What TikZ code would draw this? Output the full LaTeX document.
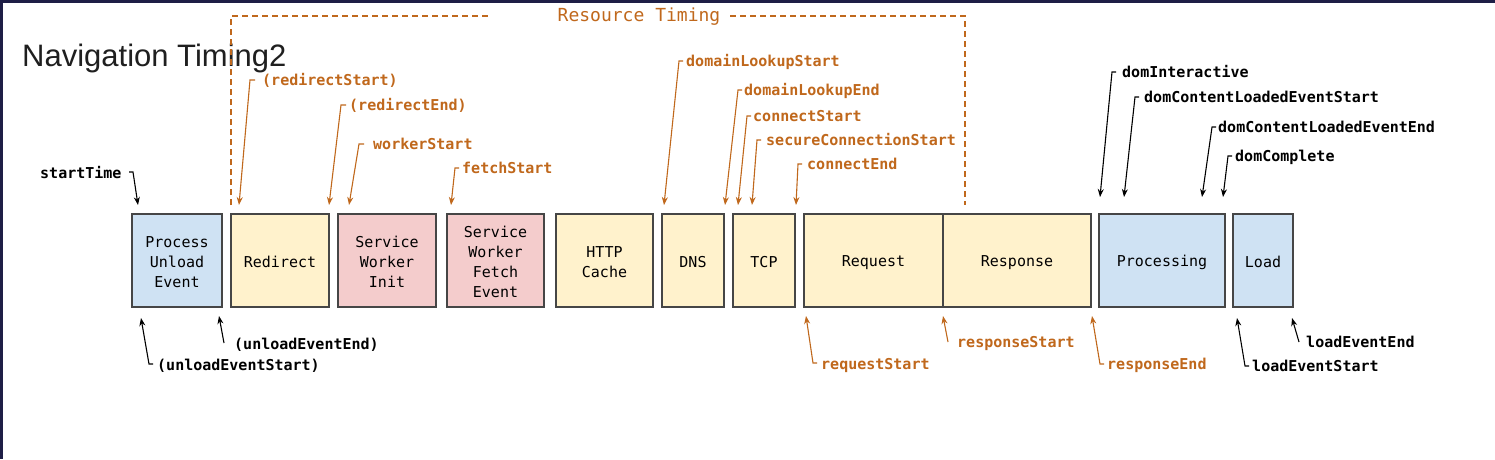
\documentclass[tikz,border=0pt]{standalone}
\usepackage{fontspec}
\usetikzlibrary{arrows.meta}
\newfontfamily\monofont{DejaVu Sans Mono}
\newfontfamily\titlefont{Liberation Sans}
\newcommand{\bst}{\rule[-3pt]{0pt}{19pt}}
\definecolor{orng}{RGB}{192,104,28}
\definecolor{bluef}{RGB}{207,226,243}
\definecolor{yelf}{RGB}{255,242,204}
\definecolor{pinkf}{RGB}{244,204,204}
\definecolor{boxc}{RGB}{70,70,70}
\definecolor{edgec}{RGB}{30,30,70}
\tikzset{
  box/.style={draw=boxc, line width=1.5pt, rectangle, minimum height=93pt, inner sep=0pt, align=center, font=\monofont\fontsize{15}{20}\selectfont, text=black},
  bluebox/.style={box, fill=bluef},
  yelbox/.style={box, fill=yelf},
  pinkbox/.style={box, fill=pinkf},
  olab/.style={anchor=base west, inner sep=0pt, font=\monofont\bfseries\fontsize{15}{18}\selectfont, text=orng},
  blab/.style={olab, text=black},
  oarr/.style={draw=orng, line width=1.1pt, line join=miter, -{Stealth[length=8pt,width=6pt]}},
  barr/.style={oarr, draw=black},
  dashbox/.style={draw=orng, line width=1.2pt, dash pattern=on 6pt off 4pt},
}
\begin{document}
\begin{tikzpicture}[x=1pt,y=-1pt]
\useasboundingbox (0,0) rectangle (1495,459);
\fill[white] (0,0) rectangle (1495,459);
\fill[edgec] (0,0) rectangle (3,459);
\fill[edgec] (0,0) rectangle (1495,2.5);

% title
\node[anchor=base west, inner sep=0pt, font=\titlefont\fontsize{31}{31}\selectfont, text=black!88] (title) at (22,66) {Navigation Timing2};

% resource timing dashed frame
\node[anchor=base, inner sep=0pt, font=\monofont\fontsize{18}{20}\selectfont, text=orng] (rt) at (639,21) {Resource Timing};
\coordinate (rtl) at (231,205);
\coordinate (rtlt) at (231,16);
\coordinate (rta) at (490,16);
\coordinate (rtb) at (730,16);
\coordinate (rtrt) at (965,16);
\coordinate (rtr) at (965,205);
\draw[dashbox] (rtl) -- (rtlt) -- (rta);
\draw[dashbox] (rtb) -- (rtrt) -- (rtr);

% boxes
\node[bluebox, minimum width=90pt] (pue) at (177,260.5) {\bst Process\\Unload\\Event\bst};
\node[yelbox, minimum width=98pt] (redir) at (280,260.5) {\bst Redirect\bst};
\node[pinkbox, minimum width=98pt] (swi) at (387,260.5) {\bst Service\\Worker\\Init\bst};
\node[pinkbox, minimum width=97pt] (swfe) at (495.5,260.5) {\bst Service\\Worker\\Fetch\\Event\bst};
\node[yelbox, minimum width=97pt] (http) at (604.5,260.5) {\bst HTTP\\Cache\bst};
\node[yelbox, minimum width=62pt] (dns) at (693,260.5) {\bst DNS\bst};
\node[yelbox, minimum width=62pt] (tcp) at (764,260.5) {\bst TCP\bst};
\node[yelbox, minimum width=139pt] (req) at (873.5,260.5) {\bst Request\bst};
\node[yelbox, minimum width=148pt] (resp) at (1017,260.5) {\bst Response\bst};
\node[bluebox, minimum width=126pt] (proc) at (1162,260.5) {\bst Processing\bst};
\node[bluebox, minimum width=60pt] (load) at (1263,260.5) {\bst Load\bst};

% top orange labels
\node[olab] (l1) at (262,85) {(redirectStart)};
\coordinate (c1) at (250,80); \coordinate (t1) at (239,205);
\draw[oarr] ([xshift=5pt]c1) -- (c1) -- (t1);

\node[olab] (l2) at (349,110) {(redirectEnd)};
\coordinate (c2) at (341,105); \coordinate (t2) at (329,205);
\draw[oarr] ([xshift=5pt]c2) -- (c2) -- (t2);

\node[olab] (l3) at (373,149) {workerStart};
\coordinate (c3) at (359,144); \coordinate (t3) at (349,205);
\draw[oarr] ([xshift=5pt]c3) -- (c3) -- (t3);

\node[olab] (l4) at (462,173) {fetchStart};
\coordinate (c4) at (455,168); \coordinate (t4) at (451,205);
\draw[oarr] ([xshift=4pt]c4) -- (c4) -- (t4);

\node[olab] (l5) at (686,66) {domainLookupStart};
\coordinate (c5) at (679,61); \coordinate (t5) at (664,205);
\draw[oarr] ([xshift=4pt]c5) -- (c5) -- (t5);

\node[olab] (l6) at (744,95) {domainLookupEnd};
\coordinate (c6) at (738,90); \coordinate (t6) at (725,205);
\draw[oarr] ([xshift=4pt]c6) -- (c6) -- (t6);

\node[olab] (l7) at (753,121) {connectStart};
\coordinate (c7) at (747,116); \coordinate (t7) at (738,205);
\draw[oarr] ([xshift=4pt]c7) -- (c7) -- (t7);

\node[olab] (l8) at (766,145) {secureConnectionStart};
\coordinate (c8) at (757,140); \coordinate (t8) at (752,205);
\draw[oarr] ([xshift=4pt]c8) -- (c8) -- (t8);

\node[olab] (l9) at (807,169) {connectEnd};
\coordinate (c9) at (798,164); \coordinate (t9) at (796,205);
\draw[oarr] ([xshift=4pt]c9) -- (c9) -- (t9);

% top black labels
\node[blab] (l10) at (40,178) {startTime};
\coordinate (c10) at (133,172); \coordinate (t10) at (138,205);
\draw[barr] ([xshift=-4pt]c10) -- (c10) -- (t10);

\node[blab] (l11) at (1122,77) {domInteractive};
\coordinate (c11) at (1112,72); \coordinate (t11) at (1100,197);
\draw[barr] ([xshift=4pt]c11) -- (c11) -- (t11);

\node[blab] (l12) at (1144,102) {domContentLoadedEventStart};
\coordinate (c12) at (1135,97); \coordinate (t12) at (1124,197);
\draw[barr] ([xshift=4pt]c12) -- (c12) -- (t12);

\node[blab] (l13) at (1218,132) {domContentLoadedEventEnd};
\coordinate (c13) at (1212,127); \coordinate (t13) at (1202,197);
\draw[barr] ([xshift=4pt]c13) -- (c13) -- (t13);

\node[blab] (l14) at (1235,161) {domComplete};
\coordinate (c14) at (1228,156); \coordinate (t14) at (1223,197);
\draw[barr] ([xshift=4pt]c14) -- (c14) -- (t14);

% bottom labels
\node[blab] (l15) at (157,370) {(unloadEventStart)};
\coordinate (c15) at (149,364); \coordinate (t15) at (141,318);
\draw[barr] ([xshift=4pt]c15) -- (c15) -- (t15);

\node[blab] (l16) at (234,349) {(unloadEventEnd)};
\coordinate (c16) at (224,343); \coordinate (t16) at (219,316);
\draw[barr] (c16) -- (t16);

\node[olab] (l17) at (821,369) {requestStart};
\coordinate (c17) at (813,363); \coordinate (t17) at (806,316);
\draw[oarr] ([xshift=4pt]c17) -- (c17) -- (t17);

\node[olab] (l18) at (957,347) {responseStart};
\coordinate (c18) at (948,342); \coordinate (t18) at (943,316);
\draw[oarr] (c18) -- (t18);

\node[olab] (l19) at (1107,369) {responseEnd};
\coordinate (c19) at (1100,364); \coordinate (t19) at (1092,316);
\draw[oarr] ([xshift=4pt]c19) -- (c19) -- (t19);

\node[blab] (l20) at (1252,371) {loadEventStart};
\coordinate (c20) at (1245,366); \coordinate (t20) at (1237,318);
\draw[barr] ([xshift=4pt]c20) -- (c20) -- (t20);

\node[blab] (l21) at (1306,347) {loadEventEnd};
\coordinate (c21) at (1299,342); \coordinate (t21) at (1292,318);
\draw[barr] (c21) -- (t21);
\end{tikzpicture}
\end{document}
